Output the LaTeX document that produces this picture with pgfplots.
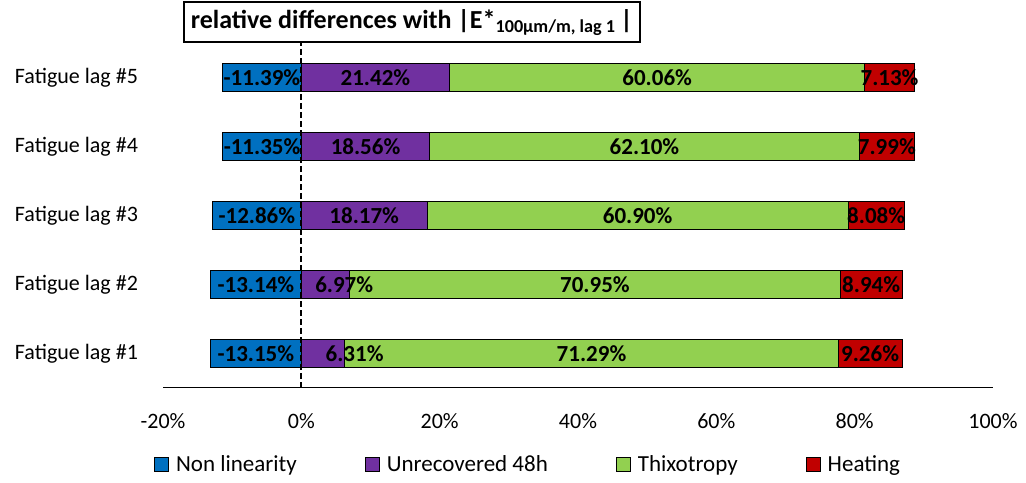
\documentclass[border=0pt]{standalone}
\usepackage{pgfplots}
\pgfplotsset{compat=1.18}
\usepackage{pgfplotstable}
\usepackage{fontspec}
\setmainfont{Carlito}

\definecolor{cnl}{RGB}{0,112,192}
\definecolor{cur}{RGB}{112,48,160}
\definecolor{cth}{RGB}{146,208,80}
\definecolor{che}{RGB}{192,0,0}

% idx: 1 = Fatigue lag #1 ... 5 = Fatigue lag #5
% urx = where the purple label sits (Excel moved the small ones)
\pgfplotstableread{
idx nl     ur    th    he   urx
1   -13.15 6.31  71.29 9.26 7.7
2   -13.14 6.97  70.95 8.94 6.2
3   -12.86 18.17 60.90 8.08 9.09
4   -11.35 18.56 62.10 7.99 9.28
5   -11.39 21.42 60.06 7.13 10.71
}\data

\pgfplotsset{
  common/.style={
    scale only axis, width=415pt, height=172.25pt,
    xmin=-20, xmax=100, ymin=0.507, ymax=5.5,
  },
  barlabel/.style={
    only marks, mark=*, mark size=0pt, mark options={draw=none, fill=none, opacity=0},
    point meta=explicit,
    nodes near coords={\pgfmathprintnumber[fixed,fixed zerofill,precision=2,assume math mode=true]{\pgfplotspointmeta}\%},
    every node near coord/.append style={anchor=center, font=\bfseries\fontsize{11.5}{13}\selectfont,
      text=black, text opacity=1, inner sep=0pt},
  },
}

\begin{document}
\begin{tikzpicture}
\begin{axis}[
  common, clip=false,
  axis x line*=bottom, axis y line*=left,
  y axis line style={draw=none},
  x axis line style={line width=0.5pt},
  major tick length=0pt,
  xtick={-20,0,20,40,60,80,100},
  xticklabels={-20\%,0\%,20\%,40\%,60\%,80\%,100\%},
  ytick={1,2,3,4,5},
  yticklabels={Fatigue lag \#1,Fatigue lag \#2,Fatigue lag \#3,Fatigue lag \#4,Fatigue lag \#5},
  tick label style={font=\fontsize{11}{13}\selectfont},
  xticklabel style={yshift=-9pt},
  yticklabel style={xshift=-9pt},
  legend columns=4,
  legend image code/.code={\draw[#1, draw=black, line width=0.5pt] (0pt,-3.5pt) rectangle (7pt,3.5pt);},
  legend style={at={(rel axis cs:-0.0185,-0.2235)}, anchor=west, draw=none, fill=none,
    font=\fontsize{11.5}{13}\selectfont,
    /tikz/every odd column/.append style={column sep=1.5pt},
    /tikz/every even column/.append style={column sep=32pt}},
]
\addplot[xbar, bar width=14pt, bar shift=0pt, fill=cnl, draw=black, line width=0.5pt, forget plot]
  table[x=nl, y=idx]{\data};
\addlegendimage{fill=cnl}
\addlegendentry{Non linearity}
\addlegendimage{fill=cur}
\addlegendentry{Unrecovered 48h}
\addlegendimage{fill=cth}
\addlegendentry{Thixotropy}
\addlegendimage{fill=che}
\addlegendentry{Heating}
\node[draw, line width=1pt, anchor=south west, inner xsep=3.5pt, inner ysep=0pt, minimum height=20pt,
  font=\bfseries\fontsize{13}{15}\selectfont]
  at (rel axis cs:0.024,1) {relative differences with |E*\textsubscript{100µm/m, lag 1}\,|};
\coordinate (bl) at (rel axis cs:-0.1964,-0.27);
\coordinate (tr) at (rel axis cs:1.0398,1.1263);
\end{axis}

\begin{axis}[common, hide axis, xbar stacked, bar width=14pt]
\addplot[fill=cur, draw=black, line width=0.5pt] table[x=ur, y=idx]{\data};
\addplot[fill=cth, draw=black, line width=0.5pt] table[x=th, y=idx]{\data};
\addplot[fill=che, draw=black, line width=0.5pt] table[x=he, y=idx]{\data};
\end{axis}

\begin{axis}[common, hide axis, clip=false]
\draw[line width=1pt, dash pattern=on 3pt off 1.5pt] (axis cs:0,0.507) -- (axis cs:0,5.5);
\addplot[barlabel] table[x expr=\thisrow{nl}/2, y=idx, meta=nl]{\data};
\addplot[barlabel] table[x=urx, y=idx, meta=ur]{\data};
\addplot[barlabel] table[x expr=\thisrow{ur}+\thisrow{th}/2, y=idx, meta=th]{\data};
\addplot[barlabel] table[x expr=\thisrow{ur}+\thisrow{th}+\thisrow{he}/2, y=idx, meta=he]{\data};
\end{axis}
\path (bl) rectangle (tr);
\end{tikzpicture}
\end{document}
